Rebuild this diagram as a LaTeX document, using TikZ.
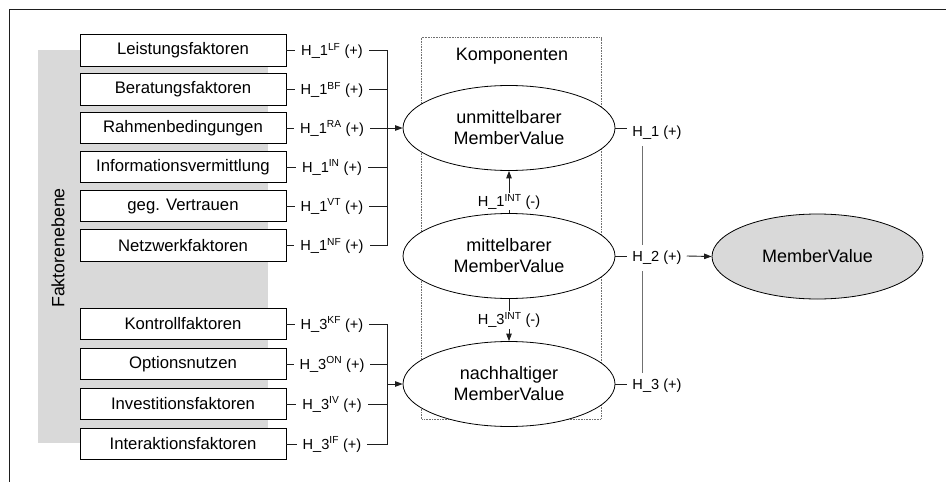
\documentclass[tikz,border=0pt]{standalone}
\usepackage{fontspec}
\setmainfont{Liberation Sans}
\usetikzlibrary{shapes.geometric,arrows.meta}
\definecolor{bandgray}{HTML}{D9D9D9}
\definecolor{linegray}{HTML}{1E1E1E}
\definecolor{midgray}{HTML}{707070}
\begin{document}
\begin{tikzpicture}[x=1pt,y=-1pt,
  fbox/.style={draw=black, fill=white, line width=0.8pt, minimum width=206pt, minimum height=31.5pt, inner sep=0pt, font=\fontsize{16.7}{19}\selectfont},
  llab/.style={fill=white, inner xsep=6pt, inner ysep=1pt, font=\fontsize{14.6}{17}\selectfont},
  rlab/.style={fill=white, inner xsep=5pt, inner ysep=0pt, minimum height=26pt, font=\fontsize{14.6}{17}\selectfont},
  ilab/.style={fill=white, inner xsep=1pt, inner ysep=1pt, font=\fontsize{14.6}{17}\selectfont},
  ell/.style={ellipse, draw=black, fill=white, line width=0.8pt, minimum width=212pt, minimum height=85pt, inner sep=0pt, align=center, font=\fontsize{18}{21}\selectfont},
  conn/.style={line width=0.9pt, draw=linegray},
  arr/.style={conn, -{Triangle[length=7.5pt,width=5.5pt]}},
]
\useasboundingbox (0,0) rectangle (946,482);
\fill[white] (0,0) rectangle (946,482);
\draw[line width=0.9pt, linegray] (9.5,482) -- (9.5,9.5) -- (946,9.5);
\fill[bandgray] (38,50) rectangle (268,443);
\node[rotate=90, font=\fontsize{17.8}{20}\selectfont] (fe) at (58,248) {Faktorenebene};

% factor boxes
\node[fbox] (b1) at (183,50.5) {Leistungsfaktoren};
\node[fbox] (b2) at (183,89.3) {Beratungsfaktoren};
\node[fbox] (b3) at (183,128) {Rahmenbedingungen};
\node[fbox] (b4) at (183,167) {Informationsvermittlung};
\node[fbox] (b5) at (183,206) {geg. Vertrauen};
\node[fbox] (b6) at (183,245.5) {Netzwerkfaktoren};
\node[fbox] (c1) at (183,324) {Kontrollfaktoren};
\node[fbox] (c2) at (183,364) {Optionsnutzen};
\node[fbox] (c3) at (183,404) {Investitionsfaktoren};
\node[fbox] (c4) at (183,444) {Interaktionsfaktoren};

\coordinate (brk) at (387,0);

% components frame
\draw[midgray, densely dotted, line width=0.6pt] (421.5,37.5) rectangle (601,419);
\node[font=\fontsize{18}{21}\selectfont] (komp) at (512,56) {Komponenten};

% ellipses
\node[ell] (u) at (509,128) {unmittelbarer\\MemberValue};
\node[ell] (m) at (509,256) {mittelbarer\\MemberValue};
\node[ell] (n) at (509,384) {nachhaltiger\\MemberValue};
\node[ell, fill=bandgray, minimum width=211pt] (M) at (817.5,256.5) {MemberValue};

% left connectors
\draw[conn] (b1.east) -- (b1.east -| brk) -- (b6.east -| brk) -- (b6.east);
\foreach \i in {2,3,4,5} \draw[conn] (b\i.east) -- (b\i.east -| brk);
\draw[arr] (b3.east -| brk) -- (u.west);
\draw[conn] (c1.east) -- (c1.east -| brk) -- (c4.east -| brk) -- (c4.east);
\foreach \i in {2,3} \draw[conn] (c\i.east) -- (c\i.east -| brk);
\draw[arr] (n.west -| brk) -- (n.west);

% left labels
\node[llab] (l1) at (332,51) {H\_1\textsuperscript{LF} (+)};
\node[llab] (l2) at (332,90) {H\_1\textsuperscript{BF} (+)};
\node[llab] (l3) at (332,128.5) {H\_1\textsuperscript{RA} (+)};
\node[llab] (l4) at (332,167.5) {H\_1\textsuperscript{IN} (+)};
\node[llab] (l5) at (332,206.5) {H\_1\textsuperscript{VT} (+)};
\node[llab] (l6) at (332,246) {H\_1\textsuperscript{NF} (+)};
\node[llab] (l7) at (332,324.5) {H\_3\textsuperscript{KF} (+)};
\node[llab] (l8) at (332,364.5) {H\_3\textsuperscript{ON} (+)};
\node[llab] (l9) at (332,404.5) {H\_3\textsuperscript{IV} (+)};
\node[llab] (l10) at (332,444.5) {H\_3\textsuperscript{IF} (+)};

% internal arrows
\draw[arr] (m.north) -- (u.south) node[ilab, pos=0.27] (i1) {H\_1\textsuperscript{INT} (-)};
\draw[arr] (m.south) -- (n.north) node[ilab, pos=0.5] (i3) {H\_3\textsuperscript{INT} (-)};

% right side
\coordinate (vx) at (642,0);
\node[rlab] (r1) at (657,133) {H\_1 (+)};
\node[rlab] (r3) at (657,386) {H\_3 (+)};
\draw[line width=0.9pt, midgray] (r1.south -| vx) -- (r3.north -| vx);
\node[rlab] (r2) at (657,258) {H\_2 (+)};
\draw[conn] (u.east) -- (u.east -| r1.west);
\draw[conn] (m.east) -- (m.east -| r2.west);
\draw[conn] (n.east) -- (n.east -| r3.west);
\draw[arr] (r2.east |- m.east) -- (M.west);
\end{tikzpicture}
\end{document}
